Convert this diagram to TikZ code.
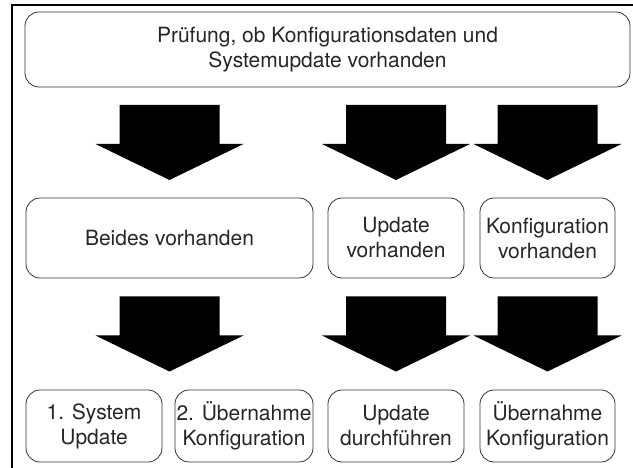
\documentclass[tikz,border=0pt]{standalone}
\usepackage{fontspec}
\setmainfont{TeX Gyre Heros}
\usetikzlibrary{calc}

\tikzset{
  kasten/.style={draw=black!80, line width=0.8pt, rounded corners=14pt, inner sep=0pt,
    align=center, text=black!85, font=\fontsize{21}{25}\selectfont},
  pfeil/.pic={\fill[black] (-50,-37.5) -- (50,-37.5) -- (50,1.5) -- (74,1.5)
    -- (0,37.5) -- (-74,1.5) -- (-50,1.5) -- cycle;}
}

\begin{document}
\begin{tikzpicture}[x=1pt, y=-1pt]
  \useasboundingbox (0,0) rectangle (633,468);
  % Rahmen (nur links und oben sichtbar)
  \draw[line width=2pt] (12,470) -- (12,5) -- (640,5);

  % Pruefung oben
  \node[kasten, minimum width=605pt, minimum height=75pt] (pruef) at (327.5,49.5)
    {Prüfung, ob Konfigurationsdaten und\\Systemupdate vorhanden};

  % mittlere Reihe
  \node[kasten, minimum width=287pt, minimum height=80pt] (beides) at (169.5,238) {Beides vorhanden};
  \node[kasten, minimum width=136pt, minimum height=80pt] (updvor) at (396,238) {Update\\vorhanden};
  \node[kasten, minimum width=135pt, minimum height=80pt] (konfvor) at (547.5,238) {Konfiguration\\vorhanden};

  % untere Reihe
  \node[kasten, minimum width=136pt, minimum height=72pt] (sysupd) at (94,426) {1. System\\Update};
  \node[kasten, minimum width=138pt, minimum height=72pt] (uebkonfa) at (244,426) {2. Übernahme\\Konfiguration};
  \node[kasten, minimum width=136pt, minimum height=72pt] (upddurch) at (396,426) {Update\\durchführen};
  \node[kasten, minimum width=135pt, minimum height=72pt] (uebkonfb) at (547.5,426) {Übernahme\\Konfiguration};

  % Pfeile
  \foreach \n in {beides, updvor, konfvor} {
    \pic at ($(\n.north)!0.5!(\n.north |- pruef.south)$) {pfeil};
  }
  \foreach \n/\m in {beides/sysupd, updvor/upddurch, konfvor/uebkonfb} {
    \pic at ($(\n.south)!0.5!(\n.south |- \m.north)$) {pfeil};
  }
\end{tikzpicture}
\end{document}
